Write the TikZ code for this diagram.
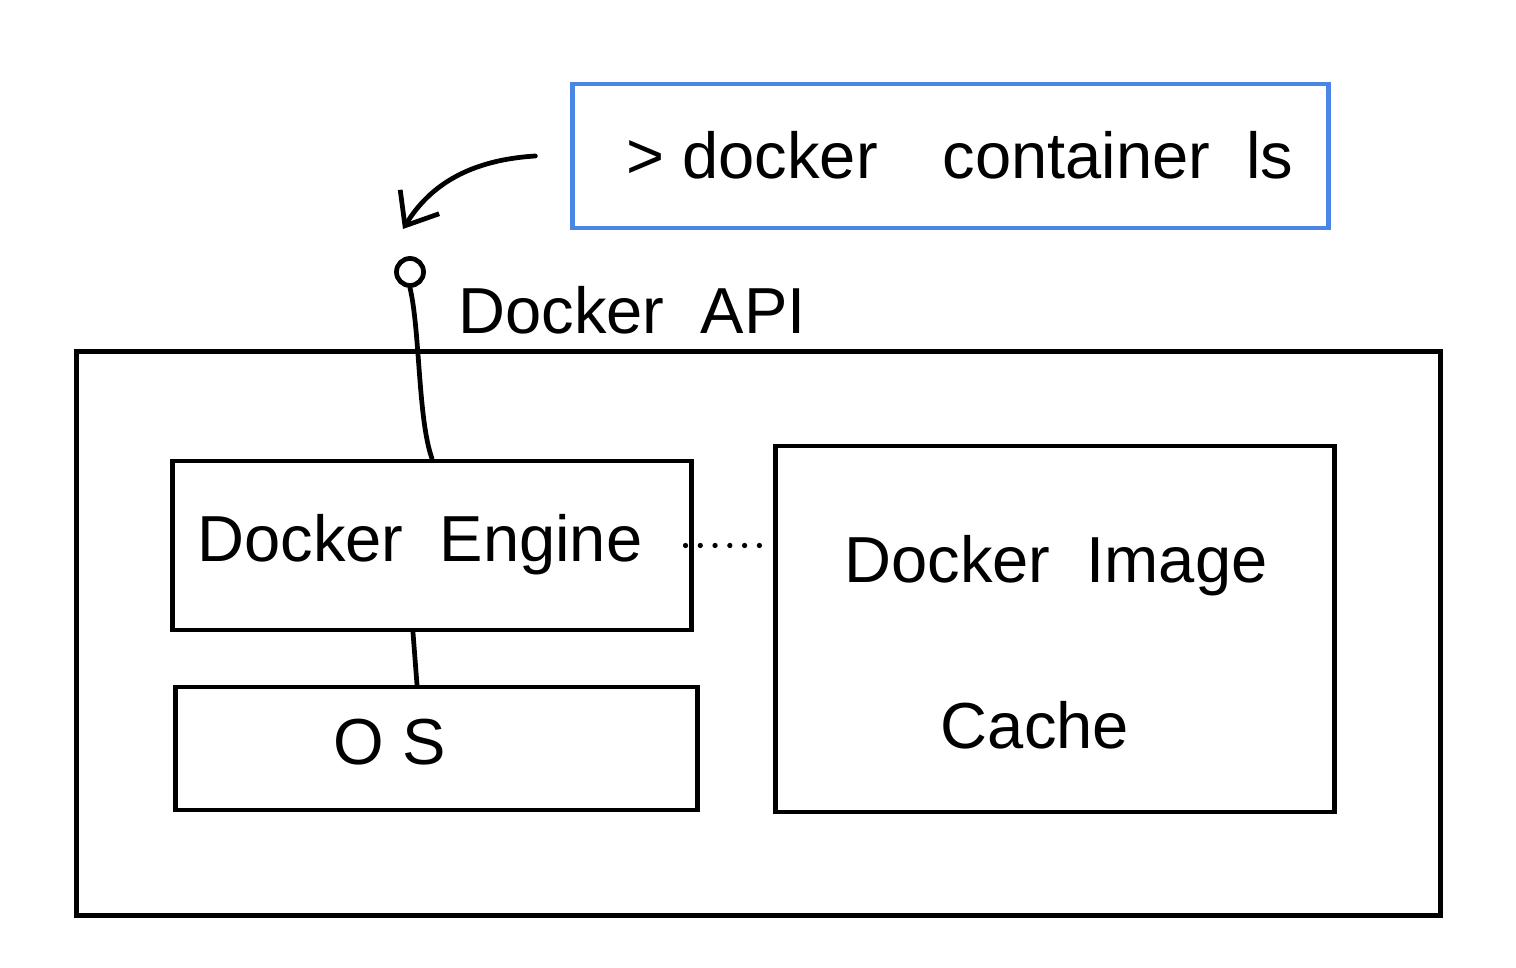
\documentclass[tikz,border=0pt]{standalone}
\usepackage{fontspec}
\setmainfont{Liberation Sans}
\usetikzlibrary{arrows.meta}
\definecolor{cmdblue}{RGB}{74,134,232}
\tikzset{
  box/.style={draw=black, line width=1.35pt, rectangle, inner sep=0pt},
  cmdbox/.style={draw=cmdblue, line width=1.35pt, rectangle, inner sep=0pt},
  lbl/.style={font=\fontsize{18.5}{22}\selectfont, inner sep=0pt},
  wire/.style={line width=1.35pt, line cap=round},
  dots/.style={line width=1.5pt, line cap=round, dash pattern=on 0pt off 4.2pt},
}
\begin{document}
\begin{tikzpicture}[x=0.01cm, y=-0.01cm]
\useasboundingbox (0,0) rectangle (1516,968);
% boxes
\node[cmdbox, minimum width=7.55cm, minimum height=1.44cm] (cmd) at (950.5,156) {};
\node[box, minimum width=13.63cm, minimum height=5.63cm] (outer) at (758.5,633.5) {};
\node[box, minimum width=5.18cm, minimum height=1.69cm] (eng) at (432,545.5) {};
\node[box, minimum width=5.21cm, minimum height=1.23cm] (os) at (436.5,748.5) {};
\node[box, minimum width=5.58cm, minimum height=3.66cm] (cache) at (1055,629) {};
\node[draw=black, line width=1.35pt, circle, minimum size=0.27cm, inner sep=0pt] (api) at (410,272) {};
% labels
\node[lbl] (cmdtxt) at (960,155) {>\ docker\quad container\ \ ls};
\node[lbl] (engtxt) at (420,545) {Docker\ \ Engine};
\node[lbl] (ostxt) at (390,742) {O\ S};
\node[lbl] (imgtxt) at (1056,566) {Docker\ \ Image};
\node[lbl] (cachetxt) at (1035,725) {Cache};
\node[lbl] (apitxt) at (632,310) {Docker\ \ API};
% connectors
\coordinate (tip) at (403,229);
\draw[wire, -{Straight Barb[length=8pt,width=13pt,line width=1.35pt]}] ([xshift=-0.35cm]cmd.west) .. controls (470,160) and (430,185) .. (tip);
\draw[wire] (api.south) .. controls (420,330) and (418,420) .. (eng.north);
\draw[wire] ([xshift=-0.19cm]eng.south) -- ([xshift=-0.195cm]os.north);
\draw[dots] ([xshift=-0.08cm]eng.east) -- (eng.east -| cache.west);
\end{tikzpicture}
\end{document}
